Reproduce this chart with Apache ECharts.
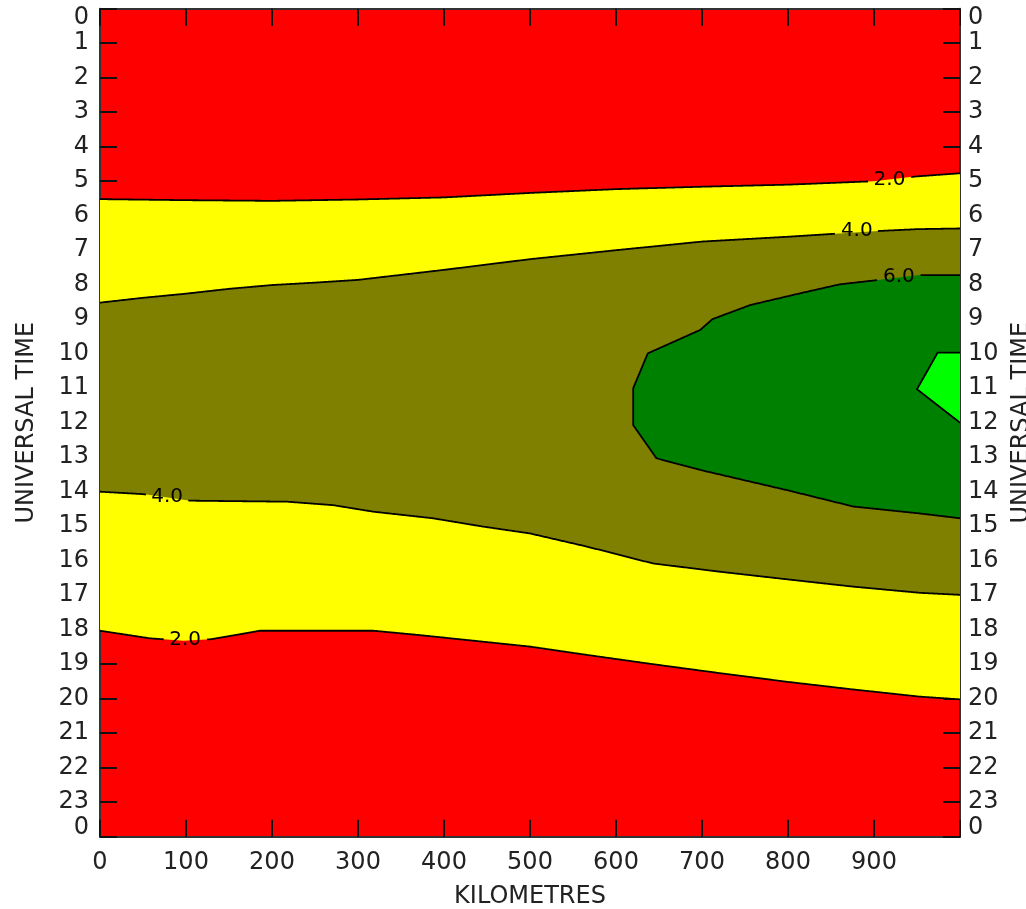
<!DOCTYPE html>
<html><head><meta charset="utf-8">
<script src="https://cdn.jsdelivr.net/npm/echarts@6/dist/echarts.min.js"></script>
<style>html,body{margin:0;padding:0;background:#fff}#c{width:1026px;height:909px}</style>
</head><body><div id="c"></div>
<script>
// ---- data (km along x, universal time in hours along y) ----
const kmTicks = [0,100,200,300,400,500,600,700,800,900];
const hourTicks = [0,1,2,3,4,5,6,7,8,9,10,11,12,13,14,15,16,17,18,19,20,21,22,23,24];
const levels = [2,4,6,8];

// level 2.0, morning side
const kmUp2 = [0,100,200,300,400,500,600,700,800,900,950,1000];
const utUp2 = [5.52,5.55,5.57,5.53,5.47,5.34,5.23,5.16,5.10,5.00,4.86,4.77];
// level 2.0, evening side
const kmLo2 = [0,58,97,128,163,186,318,369,427,500,566,643,721,799,875,953,1000];
const utLo2 = [18.03,18.25,18.32,18.28,18.13,18.03,18.03,18.15,18.30,18.49,18.73,19.00,19.26,19.51,19.73,19.94,20.02];
// level 4.0, morning side
const kmUp4 = [0,50,100,150,200,250,300,400,500,600,700,800,850,900,950,1000];
const utUp4 = [8.52,8.38,8.26,8.12,8.01,7.94,7.86,7.57,7.26,7.00,6.75,6.61,6.53,6.45,6.39,6.37];
// level 4.0, evening side
const kmLo4 = [0,50,105,218,271,318,387,445,500,566,643,721,799,875,953,1000];
const utLo4 = [14.0,14.07,14.26,14.29,14.39,14.58,14.77,15.01,15.21,15.59,16.08,16.32,16.54,16.75,16.93,16.99];
// level 6.0 region
const km6 = [1000,953,899,860,814,756,712,698,637,620,620,647,698,798,876,953,1000];
const ut6 = [7.72,7.72,7.88,7.99,8.25,8.59,9.00,9.31,9.99,11.0,12.07,13.03,13.37,13.95,14.43,14.63,14.77];
// level 8.0 region
const km8 = [1000,974,950,1000];
const ut8 = [9.97,9.97,11.03,12.0];

// contour label anchors [km, hour, level]
const contourLabels = [
  [918, 4.97, 2], [99, 18.3, 2],
  [880, 6.45, 4], [78, 14.15, 4],
  [929, 7.77, 6]
];

const bandColors = ['#ffff00','#808000','#008000','#00ff00'];
const bgColor = '#ff0000';

// ---- build polygons/lines from the arrays ----
function band(kA, uA, kB, uB){
  const pts = kA.map((k,i)=>[k,uA[i]]);
  for(let i=kB.length-1;i>=0;i--) pts.push([kB[i],uB[i]]);
  return pts;
}
function poly(k,u){ return k.map((x,i)=>[x,u[i]]); }
const fills = [
  {pts: band(kmUp2,utUp2,kmLo2,utLo2), color: bandColors[0]},
  {pts: band(kmUp4,utUp4,kmLo4,utLo4), color: bandColors[1]},
  {pts: poly(km6,ut6), color: bandColors[2]},
  {pts: poly(km8,ut8), color: bandColors[3]}
];
const lines = [
  {pts: poly(kmUp2,utUp2), level:2},
  {pts: poly(kmLo2,utLo2), level:2},
  {pts: poly(kmUp4,utUp4), level:4},
  {pts: poly(kmLo4,utLo4), level:4},
  {pts: poly(km6,ut6), level:6},
  {pts: poly(km8,ut8), level:8}
];
function isNear(pts, c){
  for(let i=0;i<pts.length-1;i++){
    const a=pts[i], b=pts[i+1];
    const lo=Math.min(a[0],b[0]), hi=Math.max(a[0],b[0]);
    if(c[0]>=lo && c[0]<=hi && hi>lo){
      const t=(c[0]-a[0])/(b[0]-a[0]);
      const u=a[1]+(b[1]-a[1])*t;
      if(Math.abs(u-c[1])<0.6) return true;
    }
  }
  return false;
}
const myLabels = lines.map(L => contourLabels.filter(c => c[2]===L.level && isNear(L.pts, c)));

const FONT = 'DejaVu Sans';
const TXT = '#222';

function renderFill(params, api){
  const f = fills[api.value(2)];
  const points = f.pts.map(p => api.coord(p));
  return {type:'polygon', shape:{points}, style:{fill:f.color, stroke:null}};
}
function renderLine(params, api){
  const idx = api.value(2);
  const L = lines[idx];
  const pts = L.pts.map(p => api.coord(p));
  const labs = myLabels[idx];
  const boxes = labs.map(c => { const q = api.coord([c[0],c[1]]); return {x0:q[0]-21, x1:q[0]+21, y0:q[1]-11, y1:q[1]+11, q, t:c[2].toFixed(1)}; });
  const runs = []; let cur = [];
  for(let i=0;i<pts.length-1;i++){
    const a=pts[i], b=pts[i+1];
    const n=Math.max(1,Math.ceil(Math.hypot(b[0]-a[0],b[1]-a[1])));
    for(let s=(i===0?0:1); s<=n; s++){
      const t=s/n; const p=[a[0]+(b[0]-a[0])*t, a[1]+(b[1]-a[1])*t];
      const inside = boxes.some(bx => p[0]>bx.x0 && p[0]<bx.x1 && p[1]>bx.y0 && p[1]<bx.y1);
      if(inside){ if(cur.length>1) runs.push(cur); cur=[]; } else cur.push(p);
    }
  }
  if(cur.length>1) runs.push(cur);
  const children = runs.map(r => ({type:'polyline', shape:{points:r}, style:{stroke:'#000', lineWidth:1.8, fill:null}}));
  boxes.forEach(bx => children.push({type:'text', style:{text:bx.t, x:bx.q[0], y:bx.q[1], align:'center', verticalAlign:'middle', font:'20px "DejaVu Sans"', fill:'#000'}}));
  return {type:'group', children};
}

const tickStyle = {inside:true, length:17, lineStyle:{color:'#111', width:2}};
const lineStyle = {show:true, onZero:false, lineStyle:{color:'#333', width:2}};
const labelStyle = {color:TXT, fontSize:24, fontFamily:FONT};

const xBase = {type:'value', min:0, max:1000, interval:100, splitLine:{show:false}, axisLine:lineStyle, axisTick:tickStyle};
const yBase = {type:'value', inverse:true, min:hourTicks[0], max:hourTicks[hourTicks.length-1], interval:1, splitLine:{show:false}, axisLine:lineStyle, axisTick:tickStyle};
const yLab = {showMinLabel:true, showMaxLabel:true, hideOverlap:false, lineHeight:18, formatter:v => String(v%24), verticalAlignMinLabel:'top', verticalAlignMaxLabel:'bottom'};

const option = {
  backgroundColor:'#fff',
  animation:false,
  grid:{left:100, right:66, top:8.7, bottom:72.3, show:true, backgroundColor:bgColor, borderWidth:0, containLabel:false, outerBoundsMode:'none'},
  xAxis:[
    Object.assign({}, xBase, {position:'bottom',
      axisLabel:Object.assign({}, labelStyle, {margin:14, showMinLabel:true, hideOverlap:false, formatter:v => kmTicks.includes(v)?String(v):''}),
      name:'KILOMETRES', nameLocation:'middle', nameGap:48, nameTextStyle:labelStyle}),
    Object.assign({}, xBase, {position:'top', axisLabel:{show:false}})
  ],
  yAxis:[
    Object.assign({}, yBase, {position:'left',
      axisLabel:Object.assign({}, labelStyle, yLab, {margin:11}),
      name:'UNIVERSAL TIME', nameLocation:'middle', nameRotate:90, nameGap:61, nameTextStyle:labelStyle}),
    Object.assign({}, yBase, {position:'right',
      axisLabel:Object.assign({}, labelStyle, yLab, {margin:8}),
      name:'UNIVERSAL TIME', nameLocation:'middle', nameRotate:90, nameGap:50, nameTextStyle:labelStyle})
  ],
  series:[
    {type:'custom', coordinateSystem:'cartesian2d', clip:true, renderItem:renderFill,
     data: fills.map((f,i)=>[f.pts[0][0], f.pts[0][1], i]), encode:{x:0,y:1}, silent:true, z:1},
    {type:'custom', coordinateSystem:'cartesian2d', clip:true, renderItem:renderLine,
     data: lines.map((L,i)=>[L.pts[0][0], L.pts[0][1], i]), encode:{x:0,y:1}, silent:true, z:2}
  ]
};
const chart = echarts.init(document.getElementById('c'), null, {renderer:'canvas'});
chart.setOption(option);
</script>
</body></html>
